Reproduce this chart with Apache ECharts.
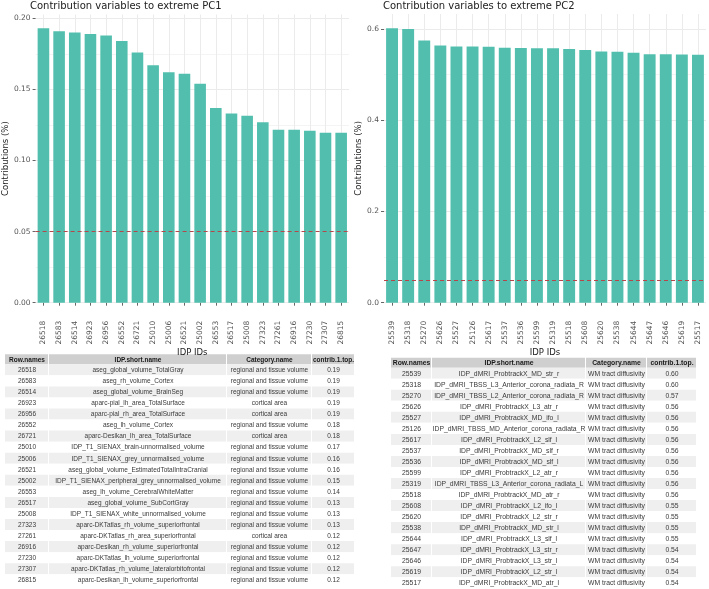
<!DOCTYPE html>
<html><head><meta charset="utf-8">
<script src="https://cdn.jsdelivr.net/npm/echarts@6/dist/echarts.min.js"></script>
<style>html,body{margin:0;padding:0;background:#fff}#c{width:709px;height:589px}</style>
</head><body><div id="c"></div>
<script>
// ---------------- DATA ----------------
const pc1Title = 'Contribution variables to extreme PC1';
const pc2Title = 'Contribution variables to extreme PC2';
const yAxisTitle = 'Contributions (%)';
const xAxisTitle = 'IDP IDs';
const refLine = 0.049;

const pc1Ids = ['26518','26583','26514','26923','26956','26552','26721','25010','25006','26521','25002','26553','26517','25008','27323','27261','26916','27230','27307','26815'];
const pc1Values = [0.193,0.191,0.190,0.189,0.188,0.184,0.176,0.167,0.162,0.161,0.154,0.137,0.133,0.1315,0.127,0.1217,0.1217,0.121,0.1195,0.1195];
const pc1Ticks = [0, 0.05, 0.10, 0.15, 0.20];
const pc1TickLabels = ['0.00','0.05','0.10','0.15','0.20'];

const pc2Ids = ['25539','25318','25270','25626','25527','25126','25617','25537','25536','25599','25319','25518','25608','25620','25538','25644','25647','25646','25619','25517'];
const pc2Values = [0.602,0.600,0.575,0.564,0.562,0.562,0.561,0.559,0.5585,0.558,0.558,0.556,0.554,0.551,0.550,0.548,0.5445,0.5445,0.544,0.5435];
const pc2Ticks = [0, 0.2, 0.4, 0.6];
const pc2TickLabels = ['0.0','0.2','0.4','0.6'];

const tableHeader = ['Row.names','IDP.short.name','Category.name','contrib.1.top.'];

const pc1Names = ['aseg_global_volume_TotalGray','aseg_rh_volume_Cortex','aseg_global_volume_BrainSeg','aparc-pial_lh_area_TotalSurface','aparc-pial_rh_area_TotalSurface','aseg_lh_volume_Cortex','aparc-Desikan_lh_area_TotalSurface','IDP_T1_SIENAX_brain-unnormalised_volume','IDP_T1_SIENAX_grey_unnormalised_volume','aseg_global_volume_EstimatedTotalIntraCranial','IDP_T1_SIENAX_peripheral_grey_unnormalised_volume','aseg_lh_volume_CerebralWhiteMatter','aseg_global_volume_SubCortGray','IDP_T1_SIENAX_white_unnormalised_volume','aparc-DKTatlas_rh_volume_superiorfrontal','aparc-DKTatlas_rh_area_superiorfrontal','aparc-Desikan_rh_volume_superiorfrontal','aparc-DKTatlas_lh_volume_superiorfrontal','aparc-DKTatlas_rh_volume_lateralorbitofrontal','aparc-Desikan_lh_volume_superiorfrontal'];
const pc1Categories = ['regional and tissue volume','regional and tissue volume','regional and tissue volume','cortical area','cortical area','regional and tissue volume','cortical area','regional and tissue volume','regional and tissue volume','regional and tissue volume','regional and tissue volume','regional and tissue volume','regional and tissue volume','regional and tissue volume','regional and tissue volume','cortical area','regional and tissue volume','regional and tissue volume','regional and tissue volume','regional and tissue volume'];
const pc1Contrib = ['0.19','0.19','0.19','0.19','0.19','0.18','0.18','0.17','0.16','0.16','0.15','0.14','0.13','0.13','0.13','0.12','0.12','0.12','0.12','0.12'];

const pc2Names = ['IDP_dMRI_ProbtrackX_MD_str_r','IDP_dMRI_TBSS_L3_Anterior_corona_radiata_R','IDP_dMRI_TBSS_L2_Anterior_corona_radiata_R','IDP_dMRI_ProbtrackX_L3_atr_r','IDP_dMRI_ProbtrackX_MD_ifo_l','IDP_dMRI_TBSS_MD_Anterior_corona_radiata_R','IDP_dMRI_ProbtrackX_L2_slf_l','IDP_dMRI_ProbtrackX_MD_slf_r','IDP_dMRI_ProbtrackX_MD_slf_l','IDP_dMRI_ProbtrackX_L2_atr_r','IDP_dMRI_TBSS_L3_Anterior_corona_radiata_L','IDP_dMRI_ProbtrackX_MD_atr_r','IDP_dMRI_ProbtrackX_L2_ifo_l','IDP_dMRI_ProbtrackX_L2_str_r','IDP_dMRI_ProbtrackX_MD_str_l','IDP_dMRI_ProbtrackX_L3_slf_l','IDP_dMRI_ProbtrackX_L3_str_r','IDP_dMRI_ProbtrackX_L3_str_l','IDP_dMRI_ProbtrackX_L2_str_l','IDP_dMRI_ProbtrackX_MD_atr_l'];
const pc2Categories = Array(20).fill('WM tract diffusivity');
const pc2Contrib = ['0.60','0.60','0.57','0.56','0.56','0.56','0.56','0.56','0.56','0.56','0.56','0.56','0.55','0.55','0.55','0.55','0.54','0.54','0.54','0.54'];

// ---------------- STYLE / LAYOUT ----------------
const FONT = '"DejaVu Sans", Verdana, sans-serif';
const TFONT = '"Liberation Sans", Arial, sans-serif';
const BAR = '#52bfae';
const GRID = '#ebebeb';

function xAxisCfg(idx, ids) {
  return {
    type: 'category', gridIndex: idx, data: ids, offset: 14,
    axisLine: {show: false},
    axisTick: {show: true, alignWithLabel: true, length: 3, lineStyle: {color: '#666'}},
    axisLabel: {rotate: 90, interval: 0, fontSize: 7.5, color: '#555', margin: 4, fontFamily: FONT},
    splitLine: {show: false},
    name: xAxisTitle, nameLocation: 'middle', nameGap: 25,
    nameTextStyle: {fontSize: 8.5, color: '#222', fontFamily: FONT}
  };
}
function yAxisCfg(idx, max, interval, ticks, labels, gap) {
  return {
    type: 'value', gridIndex: idx, min: 0, max: max, interval: interval,
    axisLine: {show: false},
    axisTick: {show: true, length: 3, lineStyle: {color: '#666'}, customValues: ticks},
    axisLabel: {fontSize: 7.5, color: '#555', margin: 5, fontFamily: FONT, customValues: ticks,
      formatter: v => { const i = ticks.findIndex(t => Math.abs(t - v) < 1e-9); return i >= 0 ? labels[i] : ''; }},
    splitLine: {show: true, lineStyle: {color: GRID, width: 1}},
    minorTick: {show: false, splitNumber: 2},
    minorSplitLine: {show: true, lineStyle: {color: '#f4f4f4', width: 1}},
    name: yAxisTitle, nameLocation: 'middle', nameGap: gap,
    nameTextStyle: {fontSize: 8.5, color: '#222', fontFamily: FONT}
  };
}
function seriesFor(idx, ids, values) {
  return [
    {type: 'line', xAxisIndex: idx, yAxisIndex: idx, data: values, symbol: 'none', silent: true,
      lineStyle: {opacity: 0}, z: 0,
      markLine: {silent: true, symbol: 'none', z: 0, animation: false, label: {show: false},
        lineStyle: {color: GRID, type: 'solid', width: 1},
        data: ids.map(id => ({xAxis: id}))}},
    {type: 'bar', xAxisIndex: idx, yAxisIndex: idx, data: values, barWidth: '74%',
      itemStyle: {color: BAR}, z: 2,
      markLine: {silent: true, symbol: 'none', z: 5, animation: false, label: {show: false},
        lineStyle: {color: '#b5474a', type: [4, 3], width: 1},
        data: [{yAxis: refLine}]}}
  ];
}

function buildTable(t, cols) {
  const els = [];
  const n = cols[0].length;
  for (let r = 0; r <= n; r++) {
    const y = r === 0 ? t.y : t.y + t.headH + (r - 1) * t.rowH;
    const h = r === 0 ? t.headH : t.rowH;
    const fill = r === 0 ? '#cfcfcf' : (r % 2 === 1 ? '#efefef' : '#ffffff');
    let x = t.x;
    for (let c = 0; c < cols.length; c++) {
      const w = t.colW[c];
      const txt = r === 0 ? tableHeader[c] : cols[c][r - 1];
      els.push({type: 'rect', silent: true, shape: {x: x, y: y, width: w - 1, height: h}, style: {fill: fill}});
      els.push({type: 'text', silent: true, x: x + w / 2, y: y + h / 2 + 0.5,
        style: {text: txt, fill: r === 0 ? '#1a1a1a' : '#3a3a3a',
          font: (r === 0 ? 'bold ' : '') + t.fs + 'px ' + TFONT,
          align: 'center', verticalAlign: 'middle', textAlign: 'center', textVerticalAlign: 'middle'}});
      x += w;
    }
  }
  return els;
}

const leftTable = {x: 5, y: 354.3, headH: 10, rowH: 11.05, colW: [44, 178, 85, 43], fs: 6.5};
const rightTable = {x: 391, y: 357.7, headH: 10, rowH: 11.03, colW: [41, 154, 61, 50], fs: 6.8};

const chart = echarts.init(document.getElementById('c'));
chart.setOption({
  animation: false,
  backgroundColor: '#fff',
  title: [
    {text: pc1Title, left: 30, top: 1, padding: 0, textStyle: {fontSize: 10, fontWeight: 'normal', color: '#222', fontFamily: FONT}},
    {text: pc2Title, left: 383, top: 1, padding: 0, textStyle: {fontSize: 10, fontWeight: 'normal', color: '#222', fontFamily: FONT}}
  ],
  grid: [
    {left: 31, right: 360, top: 14.5, bottom: 286.3},
    {left: 384, right: 3, top: 14, bottom: 286.3}
  ],
  xAxis: [xAxisCfg(0, pc1Ids), xAxisCfg(1, pc2Ids)],
  yAxis: [yAxisCfg(0, 0.2027, 0.05, pc1Ticks, pc1TickLabels, 20), yAxisCfg(1, 0.633, 0.2, pc2Ticks, pc2TickLabels, 14)],
  series: seriesFor(0, pc1Ids, pc1Values).concat(seriesFor(1, pc2Ids, pc2Values)),
  graphic: buildTable(leftTable, [pc1Ids, pc1Names, pc1Categories, pc1Contrib])
    .concat(buildTable(rightTable, [pc2Ids, pc2Names, pc2Categories, pc2Contrib]))
});
</script></body></html>
